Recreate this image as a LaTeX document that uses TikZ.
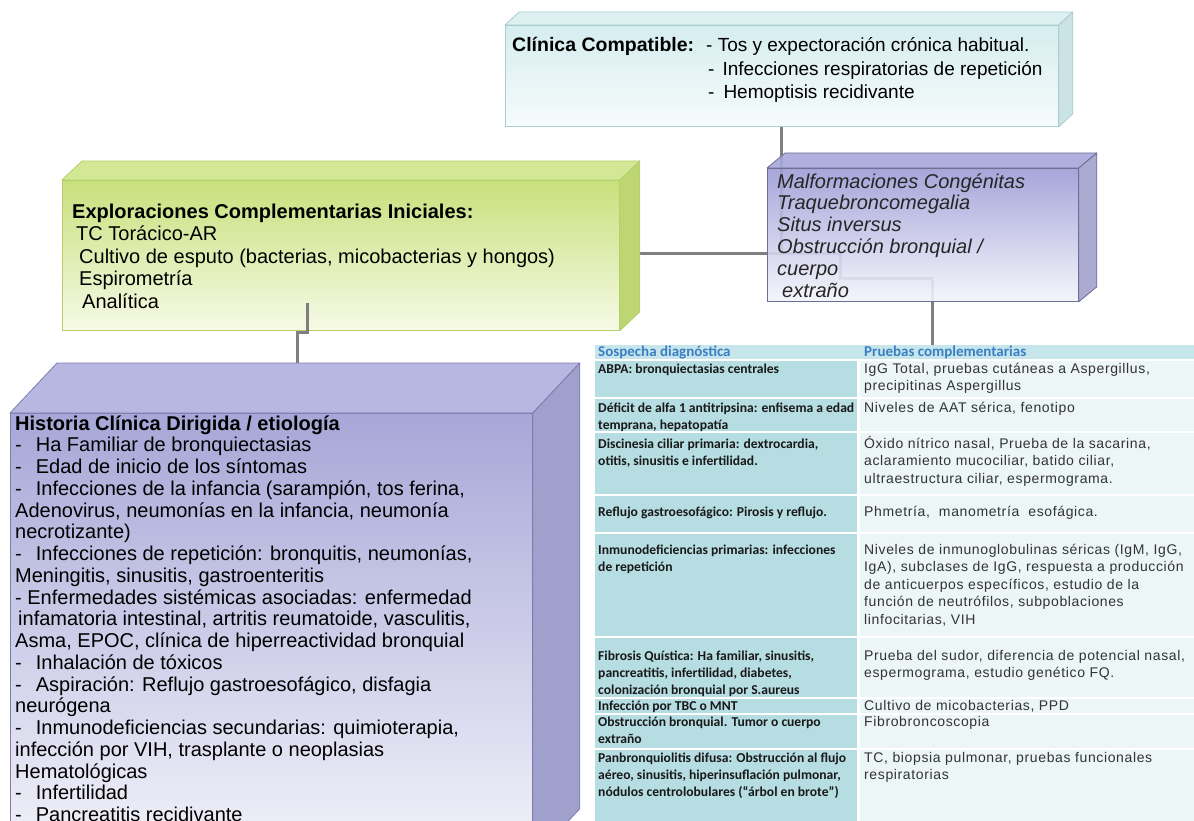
\documentclass[tikz,border=0pt]{standalone}
\usepackage{fontspec}
\setmainfont{Liberation Sans}
\newfontfamily\calibfont{Carlito}
\newfontfamily\cellfont[LetterSpace=4.5]{Liberation Sans}
\usetikzlibrary{backgrounds}

\definecolor{linegray}{HTML}{7F7F7F}
% cyan box
\definecolor{clinbd}{HTML}{A9CDD0}
\definecolor{clintop}{HTML}{D6EDEF}
\definecolor{clinbot}{HTML}{F6FBFB}
\definecolor{clintf}{HTML}{DDF0F1}
\definecolor{clinsd}{HTML}{CBE3E4}
% small purple box
\definecolor{malfbd}{HTML}{6E6E94}
\definecolor{malftop}{HTML}{9C9CD6}
\definecolor{malfbot}{HTML}{F4F4FB}
\definecolor{malftf}{HTML}{A7A7DA}
\definecolor{malfsd}{HTML}{A2A2CC}
% green box
\definecolor{explbd}{HTML}{B5CF6A}
\definecolor{expltop}{HTML}{C8E07C}
\definecolor{explbot}{HTML}{F6FAE6}
\definecolor{expltf}{HTML}{D3E895}
\definecolor{explsd}{HTML}{BED672}
% large purple box
\definecolor{histbd}{HTML}{7C7CB0}
\definecolor{histtop}{HTML}{A7A7D8}
\definecolor{histbot}{HTML}{F3F3FA}
\definecolor{histtf}{HTML}{B7B7E1}
\definecolor{histsd}{HTML}{A0A0CD}
% table
\definecolor{headbg}{HTML}{C7E6EB}
\definecolor{headtx}{HTML}{3A7FC3}
\definecolor{colA}{HTML}{B6DDE2}
\definecolor{colB}{HTML}{ECF6F7}

% top and side faces of a box whose front face is node #1
\newcommand\drawcubefaces[6]{%
  \filldraw[fill=#4, draw=#6, line width=0.8pt, line join=round]
    (#1.north west) -- ++(#2,-#3) -- ([shift={(#2,-#3)}]#1.north east) -- (#1.north east) -- cycle;
  \filldraw[fill=#5, draw=#6, line width=0.8pt, line join=round]
    (#1.north east) -- ([shift={(#2,-#3)}]#1.north east) -- ([shift={(#2,-#3)}]#1.south east) -- (#1.south east) -- cycle;
}
\newcommand\setfs[2]{\fontsize{#1}{#2}\selectfont}

\begin{document}
% multi-line text nodes are placed by the baseline of their last line
\begin{tikzpicture}[x=1pt,y=-1pt,
  conn/.style={draw=linegray, line width=3pt},
  cubefront/.style={anchor=north west, inner sep=0pt, line width=0.8pt},
  boxtext/.style={anchor=base west, inner sep=0pt, align=left, text=black},
  cellA/.style={anchor=base west, inner sep=0pt, align=left, font=\calibfont\bfseries\setfs{13.6}{17.2}, text=black!90},
  cellB/.style={anchor=base west, inner sep=0pt, align=left, font=\cellfont\setfs{14}{17.4}, text=black!80},
  headtext/.style={anchor=base west, inner sep=0pt, font=\calibfont\bfseries\setfs{15}{17}, text=headtx}]
\clip (0,0) rectangle (1194,821);

% ---------- Clinica compatible ----------
\node[cubefront, draw=clinbd, top color=clintop, bottom color=clinbot,
      minimum width=553pt, minimum height=101pt] (clin) at (505,25) {};
\drawcubefaces{clin}{14}{13}{clintf}{clinsd}{clinbd}
\node[boxtext, font=\bfseries\setfs{19.5}{23.5}] (clinhead) at (512,52) {Clínica Compatible:};
\node[boxtext, font=\setfs{19}{23.5}] (clinlist) at (706,{52+2*23.5})
  {- Tos y expectoración crónica habitual.\\
   \hspace{2pt}-\hspace{8pt}Infecciones respiratorias de repetición\\
   \hspace{2pt}-\hspace{9pt}Hemoptisis recidivante};

% ---------- Exploraciones complementarias ----------
\node[cubefront, draw=explbd, top color=expltop, bottom color=explbot,
      minimum width=557pt, minimum height=150pt] (expl) at (62,180) {};
\drawcubefaces{expl}{20}{19}{expltf}{explsd}{explbd}
\node[boxtext, font=\setfs{20}{22.6}] (expltext) at (72,{218+4*22.6})
  {\textbf{Exploraciones Complementarias Iniciales:}\\
   \hspace{4pt}TC Torácico-AR\\
   \hspace{7pt}Cultivo de esputo (bacterias, micobacterias y hongos)\\
   \hspace{7pt}Espirometría\\
   \hspace{10pt}Analítica};

% ---------- Malformaciones (translucent) ----------
\begin{scope}[fill opacity=0.9]
\node[cubefront, draw=malfbd, top color=malftop, bottom color=malfbot,
      minimum width=311pt, minimum height=133pt] (malf) at (767,168) {};
\drawcubefaces{malf}{18}{15}{malftf}{malfsd}{malfbd}
\end{scope}
\node[boxtext, font=\itshape\setfs{20}{21.8}, text=black!85] (malftext) at (777,{188+5*21.8})
  {Malformaciones Congénitas\\
   Traquebroncomegalia\\
   Situs inversus\\
   Obstrucción bronquial /\\
   cuerpo\\
   \hspace{5pt}extraño};

% ---------- connector from the green box down to the history box ----------
\coordinate (exsrc) at (307,303);
\coordinate (exbend) at (307,332);
\coordinate (histjog) at (297,332);

% ---------- Historia clinica ----------
\node[cubefront, draw=histbd, top color=histtop, bottom color=histbot,
      minimum width=522pt, minimum height=445pt] (hist) at (10,413) {};
\coordinate (histback) at ([shift={(0,-50)}]hist.north);
\begin{pgfonlayer}{background}
\draw[conn] (exsrc) -- (exbend) -- (histjog) -- (histjog |- histback);
\end{pgfonlayer}
\drawcubefaces{hist}{47}{50}{histtf}{histsd}{histbd}
\draw[conn] (exsrc) -- (exbend) -- (histjog) -- ++(0,20);
\node[boxtext, font=\setfs{20}{21.75}] (histtext) at (15,{430+18*21.75})
  {\textbf{Historia Clínica Dirigida / etiología}\\
   -\hspace{14pt}Ha Familiar de bronquiectasias\\
   -\hspace{14pt}Edad de inicio de los síntomas\\
   -\hspace{14pt}Infecciones de la infancia (sarampión, tos ferina,\\
   Adenovirus, neumonías en la infancia, neumonía\\
   necrotizante)\\
   -\hspace{14pt}Infecciones de repetición: bronquitis, neumonías,\\
   Meningitis, sinusitis, gastroenteritis\\
   - Enfermedades sistémicas asociadas: enfermedad\\
   \hspace{3pt}infamatoria intestinal, artritis reumatoide, vasculitis,\\
   Asma, EPOC, clínica de hiperreactividad bronquial\\
   -\hspace{14pt}Inhalación de tóxicos\\
   -\hspace{14pt}Aspiración: Reflujo gastroesofágico, disfagia\\
   neurógena\\
   -\hspace{14pt}Inmunodeficiencias secundarias: quimioterapia,\\
   infección por VIH, trasplante o neoplasias\\
   Hematológicas\\
   -\hspace{14pt}Infertilidad\\
   -\hspace{14pt}Pancreatitis recidivante};

% ---------- table ----------
\node[anchor=north west, inner sep=0pt, fill=headbg, minimum width=599pt, minimum height=14pt] (thead) at (595,345) {};
\foreach \t/\b in {361/397, 399/431, 433/494, 496/532, 534/636, 638/697, 699/713, 715/748, 750/830}{
  \fill[colA] (595,\t) rectangle (857,\b);
  \fill[colB] (860,\t) rectangle (1194,\b);
}
\node[headtext] (h1) at (598,356.5) {Sospecha diagnóstica};
\node[headtext] (h2) at (864,356.5) {Pruebas complementarias};

\node[cellA] (a1) at (598,373.5) {ABPA: bronquiectasias centrales};
\node[cellB] (b1) at (864,{373.5+17.4}) {IgG Total, pruebas cutáneas a Aspergillus,\\precipitinas Aspergillus};
\node[cellA] (a2) at (598,{412.5+17.2}) {Déficit de alfa 1 antitripsina: enfisema a edad\\temprana, hepatopatía};
\node[cellB] (b2) at (864,412.5) {Niveles de AAT sérica, fenotipo};
\node[cellA] (a3) at (598,{448.5+17.2}) {Discinesia ciliar primaria: dextrocardia,\\otitis, sinusitis e infertilidad.};
\node[cellB] (b3) at (864,{448.5+2*17.4}) {Óxido nítrico nasal, Prueba de la sacarina,\\aclaramiento mucociliar, batido ciliar,\\ultraestructura ciliar, espermograma.};
\node[cellA] (a4) at (598,516.5) {Reflujo gastroesofágico: Pirosis y reflujo.};
\node[cellB] (b4) at (864,516.5) {Phmetría,\ \ manometría\ \ esofágica.};
\node[cellA] (a5) at (598,{554.5+17.2}) {Inmunodeficiencias primarias: infecciones\\de repetición};
\node[cellB] (b5) at (864,{554.5+4*17.4}) {Niveles de inmunoglobulinas séricas (IgM, IgG,\\IgA), subclases de IgG, respuesta a producción\\de anticuerpos específicos, estudio de la\\función de neutrófilos, subpoblaciones\\linfocitarias, VIH};
\node[cellA] (a6) at (598,{660.5+2*17.2}) {Fibrosis Quística: Ha familiar, sinusitis,\\pancreatitis, infertilidad, diabetes,\\colonización bronquial por S.aureus};
\node[cellB] (b6) at (864,{660.5+17.4}) {Prueba del sudor, diferencia de potencial nasal,\\espermograma, estudio genético FQ.};
\node[cellA] (a7) at (598,710.5) {Infección por TBC o MNT};
\node[cellB] (b7) at (864,710.5) {Cultivo de micobacterias, PPD};
\node[cellA] (a8) at (598,{726.5+17.2}) {Obstrucción bronquial. Tumor o cuerpo\\extraño};
\node[cellB] (b8) at (864,726.5) {Fibrobroncoscopia};
\node[cellA] (a9) at (598,{762.5+2*17.2}) {Panbronquiolitis difusa: Obstrucción al flujo\\aéreo, sinusitis, hiperinsuflación pulmonar,\\nódulos centrolobulares (“árbol en brote”)};
\node[cellB] (b9) at (864,{762.5+17.4}) {TC, biopsia pulmonar, pruebas funcionales\\respiratorias};

% ---------- connectors between the upper boxes and the table ----------
\coordinate (j1) at (781,253);
\coordinate (j2) at (840,253);
\coordinate (j3) at (840,278);
\coordinate (j4) at (932,278);
\begin{pgfonlayer}{background}
\draw[conn] (clin.south -| j1) -- (j1);
\draw[conn] (expl.east |- j1) -- (j2) -- (j3) -- (j4) -- (thead.north -| j4);
\end{pgfonlayer}
\end{tikzpicture}
\end{document}
